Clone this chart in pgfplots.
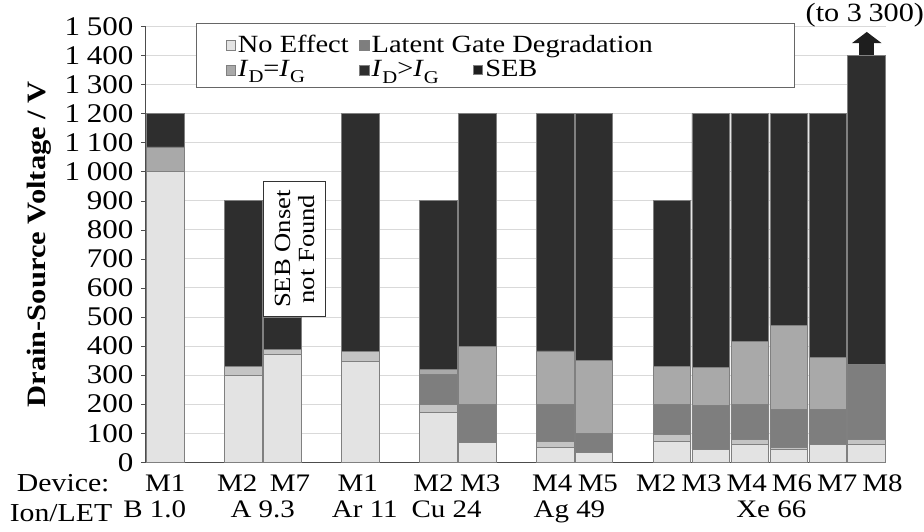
\documentclass[border=0pt]{standalone}
\usepackage{pgfplots}
\pgfplotsset{compat=1.18}
\usepackage{fontspec}
\setmainfont{Liberation Serif}[FakeStretch=1.15]
\usetikzlibrary{arrows.meta}

\definecolor{noeff}{HTML}{E3E3E3}
\definecolor{band}{HTML}{C4C4C4}
\definecolor{latent}{HTML}{7E7E7E}
\definecolor{idig}{HTML}{A9A9A9}
\definecolor{dark}{HTML}{2E2E2E}
\definecolor{seb}{HTML}{1E1E1E}

\newcommand{\sub}[1]{\raisebox{-0.55ex}{\fontsize{8}{8}\selectfont #1}}
\newcommand{\sebmark}{\raisebox{0.15ex}{\tikz\draw[fill=seb, draw=black!50, line width=0.3pt] (0,0) rectangle (4.2pt,4.2pt);}}

\pgfplotsset{
  mybar/.style={fill=#1, draw=black!50, line width=0.35pt,
    legend image code/.code={\draw[fill=#1, draw=black!50, line width=0.3pt] (0pt,-2.1pt) rectangle (4.2pt,2.1pt);}},
}

\begin{document}
\begin{tikzpicture}
\begin{axis}[
  scale only axis, width=329.3pt, height=193.8pt,
  ybar stacked, bar width=0.97,
  xmin=-0.5, xmax=18.5, ymin=0, ymax=1500,
  clip=false,
  axis x line*=bottom, axis y line*=left,
  axis line style={black!70, line width=0.5pt},
  xtick={0,1.85,3.2,4.94,6.88,8.08,9.93,11.1,12.6,13.76,14.92,16.08,17.24,18.4},
  xticklabels={M1,M2,M7,M1,M2,M3,M4,M5,M2,M3,M4,M6,M7,M8},
  extra x ticks={-0.27,2.5,5.12,7.22,10.37,15.55},
  extra x tick labels={B 1.0,A 9.3,Ar 11,Cu 24,Ag 49,Xe 66},
  extra x tick style={major tick length=0pt, xticklabel style={yshift=-13.6pt}},
  x tick style={draw=none},
  xticklabel style={font=\fontsize{11.2}{13}\selectfont},
  ytick distance=100,
  ymajorgrids, grid style={black!15, line width=0.4pt},
  y tick style={black!70}, tick align=outside, major tick length=2pt,
  yticklabel style={font=\fontsize{12}{14}\selectfont,
    /pgf/number format/1000 sep={\hspace{0.25em}}, /pgf/number format/assume math mode=true},
  ylabel={Drain-Source Voltage / V},
  ylabel style={font=\fontsize{11.8}{14}\selectfont\bfseries, yshift=-1pt},
  legend columns=2,
  legend cell align=left,
  legend style={at={(rel axis cs:0.095,1.0069)}, anchor=north west, draw=none, fill=none,
    font=\fontsize{11}{12}\selectfont, inner xsep=4pt, inner ysep=4pt,
    nodes={inner sep=1pt},
    /tikz/every even column/.append style={column sep=3pt}},
]
% legend frame
\draw[black!60, line width=0.5pt, fill=white] (rel axis cs:0.0688,1.0069) rectangle (rel axis cs:0.8758,0.8601);
% bottom to top: no effect, thin band, latent, ID=IG, ID>IG
\addplot[mybar=noeff] coordinates {(0,1000)(2,300)(3,372)(5,348)(7,171)(8,69)(10,51)(11,35)(13,73)(14,45)(15,62)(16,45)(17,62)(18,62)};
\addlegendentry{\makebox[50pt][l]{No Effect}}
\addplot[mybar=band, forget plot] coordinates {(0,0)(2,30)(3,16)(5,34)(7,28)(8,0)(10,22)(11,0)(13,23)(14,0)(15,17)(16,6)(17,0)(18,17)};
\addplot[mybar=latent] coordinates {(0,0)(2,0)(3,0)(5,0)(7,103)(8,131)(10,126)(11,65)(13,103)(14,150)(15,120)(16,131)(17,120)(18,258)};
\addlegendentry{Latent Gate Degradation}
\addplot[mybar=idig] coordinates {(0,85)(2,0)(3,0)(5,0)(7,18)(8,200)(10,184)(11,250)(13,131)(14,131)(15,218)(16,288)(17,178)(18,0)};
\addlegendentry{\makebox[50pt][l]{\textit{I}\sub{D}=\textit{I}\sub{G}}}
\addplot[mybar=dark] coordinates {(0,115)(2,570)(3,112)(5,818)(7,580)(8,800)(10,817)(11,850)(13,570)(14,874)(15,783)(16,730)(17,840)(18,1063)};
\addlegendentry{\makebox[45pt][l]{\textit{I}\sub{D}>\textit{I}\sub{G}}\sebmark\hspace{1pt}SEB}

\node[draw=black!80, fill=white, rotate=90, anchor=north west, align=center,
  font=\fontsize{10.3}{11}\selectfont, inner sep=2pt, minimum width=60pt, minimum height=27.5pt]
  at (axis cs:2.52,500) {SEB Onset\\not Found};
\draw[seb, line width=6.7pt, -{Triangle[width=13pt,length=5pt]}] (axis cs:18,1400) -- (axis cs:18,1481);
\node[font=\fontsize{11.7}{12}\selectfont, inner sep=0pt] at (axis cs:17.95,1540) {(to 3\hspace{0.25em}300)};
\node[anchor=base east, inner sep=0pt, font=\fontsize{11.5}{12}\selectfont] at ([yshift=-12.9pt]axis cs:-1.42,0) {Device:};
\node[anchor=base east, inner sep=0pt, font=\fontsize{11.5}{12}\selectfont] at ([yshift=-26.2pt]axis cs:-1.35,0) {Ion/LET};
% page frame as in the reference
\path (axis cs:-4.24,-237) (axis cs:19.45,1591);
\end{axis}
\end{tikzpicture}
\end{document}
